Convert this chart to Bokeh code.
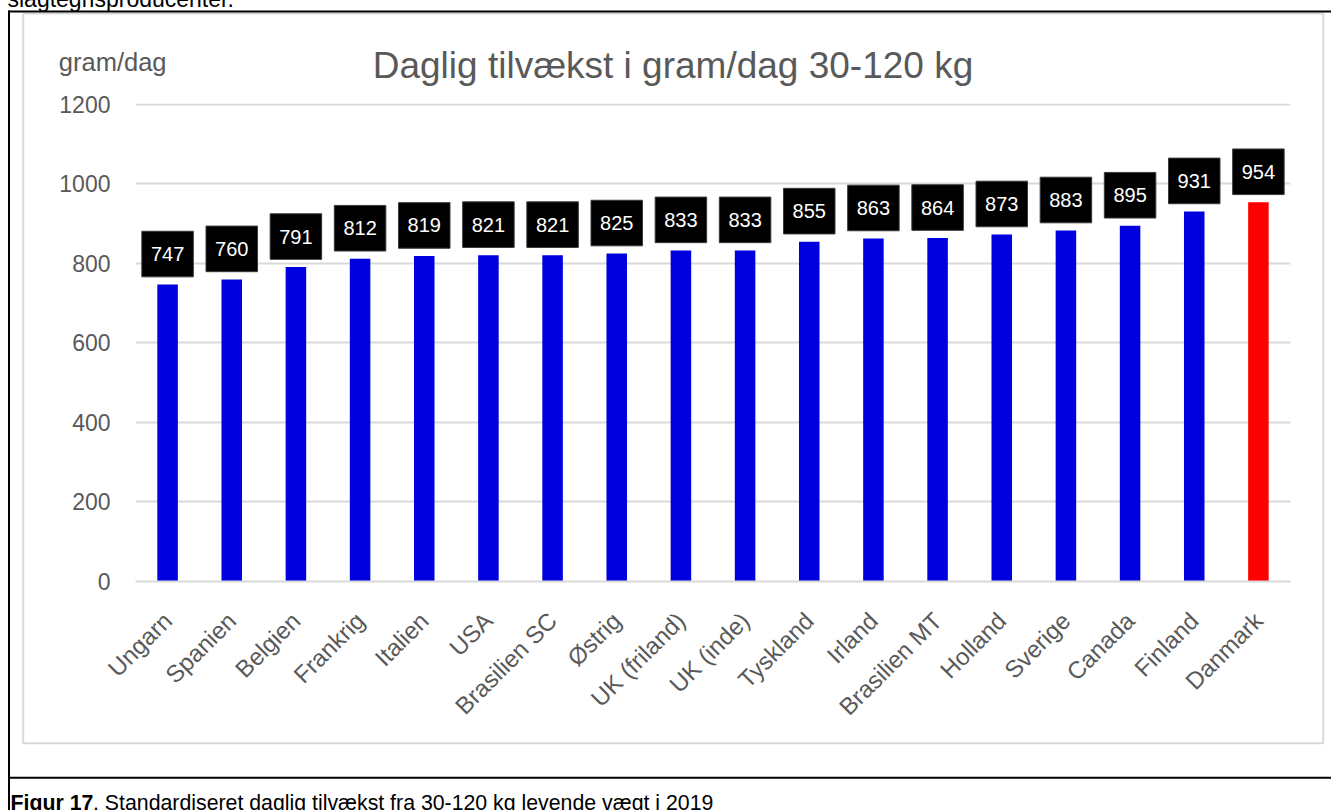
import math
from bokeh.plotting import figure
from bokeh.models import Range1d, FixedTicker, ColumnDataSource, FactorRange
from bokeh.core.properties import value
from bokeh.embed import file_html
from bokeh.resources import INLINE

# ---------------- data ----------------
countries = ["Ungarn", "Spanien", "Belgien", "Frankrig", "Italien", "USA",
             "Brasilien SC", "Østrig", "UK (friland)", "UK (inde)", "Tyskland",
             "Irland", "Brasilien MT", "Holland", "Sverige", "Canada",
             "Finland", "Danmark"]
tilvaekst = [747, 760, 791, 812, 819, 821, 821, 825, 833, 833, 855,
             863, 864, 873, 883, 895, 931, 954]
y_ticks = [0, 200, 400, 600, 800, 1000, 1200]
highlight = "Danmark"
title_text = "Daglig tilvækst i gram/dag 30-120 kg"
unit_text = "gram/dag"
top_text = "slagtegrisproducenter."
caption_bold = "Figur 17"
caption_rest = ". Standardiseret daglig tilvækst fra 30-120 kg levende vægt i 2019"

# ---------------- layout / style ----------------
FONT = "Liberation Sans"
GREY_TXT = "#595959"
GRID = "#d9d9d9"
BLUE = "#0000DE"
RED = "#FF0000"

W, H = 1331, 810
FL, FR, FT, FB = 135, 1290, 103, 581          # frame edges in canvas px
Y_END = 1202.5
ppu = (FB - FT) / Y_END                        # px per y unit
cat_px = (FR - FL) / len(countries)            # px per category


def dx(cx):  # canvas px -> synthetic x coordinate
    return (cx - FL) / cat_px


def dy(cy):  # canvas px -> y data coordinate
    return (FB - cy) / ppu


bar_colors = [RED if c == highlight else BLUE for c in countries]
box_gap_px = 7.7
box_h_px = 45.6
box_w_px = 51.5
label_y = [v + (box_gap_px + box_h_px / 2) / ppu for v in tilvaekst]

src = ColumnDataSource(dict(
    x=countries, top=tilvaekst, color=bar_colors,
    ly=label_y, txt=[str(v) for v in tilvaekst],
))

p = figure(
    width=W, height=H,
    x_range=FactorRange(*countries, range_padding=0),
    y_range=Range1d(0, Y_END),
    output_backend="svg", toolbar_location=None,
    min_border_left=FL, min_border_right=W - FR,
    min_border_top=FT, min_border_bottom=H - FB,
)
p.outline_line_color = None
p.background_fill_color = "white"
p.border_fill_color = "white"

p.vbar(x="x", top="top", width=0.32, color="color", line_color=None, source=src)

p.rect(x="x", y="ly", width=box_w_px, height=box_h_px,
       width_units="screen", height_units="screen",
       fill_color="black", line_color="#3a3a3a", line_width=1, source=src)
p.text(x="x", y="ly", text="txt", text_align="center", text_baseline="middle",
       text_color="white", text_font=value(FONT), text_font_size="20px",
       source=src)

# axes
p.yaxis.ticker = FixedTicker(ticks=y_ticks)
p.yaxis.axis_line_color = None
p.yaxis.major_tick_line_color = None
p.yaxis.minor_tick_line_color = None
p.yaxis.major_label_standoff = 19
p.yaxis.major_label_text_font = FONT
p.yaxis.major_label_text_font_size = "23px"
p.yaxis.major_label_text_color = GREY_TXT

p.xaxis.axis_line_color = GRID
p.xaxis.axis_line_width = 2
p.xaxis.major_tick_line_color = None
p.xaxis.minor_tick_line_color = None
p.xaxis.major_label_orientation = math.pi / 4
p.xaxis.major_label_standoff = 29
p.xaxis.major_label_text_font = FONT
p.xaxis.major_label_text_font_size = "24px"
p.xaxis.major_label_text_color = GREY_TXT

p.xgrid.grid_line_color = None
p.ygrid.grid_line_color = GRID
p.ygrid.grid_line_width = 2

# decorations drawn on the overlay level (outside the plot frame)
# inner grey chart border
p.quad(left=[dx(22.7)], right=[dx(1322.7)], top=[dy(13)], bottom=[dy(742.7)],
       fill_color=None, line_color=GRID, line_width=2, level="overlay")
# outer black figure frame: top line, left line, caption separator
p.segment(x0=[dx(7.5)], y0=[dy(11)], x1=[dx(1331)], y1=[dy(11)],
          line_color="black", line_width=2, level="overlay")
p.segment(x0=[dx(8.5)], y0=[dy(10)], x1=[dx(8.5)], y1=[dy(810)],
          line_color="black", line_width=2, level="overlay")
p.segment(x0=[dx(7.5)], y0=[dy(777.3)], x1=[dx(1331)], y1=[dy(777.3)],
          line_color="black", line_width=2, level="overlay")

# texts
p.text(x=[dx(672.5)], y=[dy(64.5)], text=[title_text],
       text_align="center", text_baseline="middle",
       text_font=value(FONT), text_font_size="37px", text_color=GREY_TXT,
       level="overlay")
p.text(x=[dx(58.3)], y=[dy(61)], text=[unit_text],
       text_align="left", text_baseline="middle",
       text_font=value(FONT), text_font_size="25.5px", text_color=GREY_TXT,
       level="overlay")
p.text(x=[dx(7)], y=[dy(-1.5)], text=[top_text],
       text_align="left", text_baseline="middle",
       text_font=value(FONT), text_font_size="23px", text_color="black",
       level="overlay")
p.text(x=[dx(10)], y=[dy(802.5)], text=[caption_bold],
       text_align="left", text_baseline="middle",
       text_font=value(FONT), text_font_size="21.3px", text_font_style="bold",
       text_color="black", level="overlay")
p.text(x=[dx(92.5)], y=[dy(802.5)], text=[caption_rest],
       text_align="left", text_baseline="middle",
       text_font=value(FONT), text_font_size="21.3px", text_color="black",
       level="overlay")

open("out.html", "w").write(file_html(p, INLINE))
